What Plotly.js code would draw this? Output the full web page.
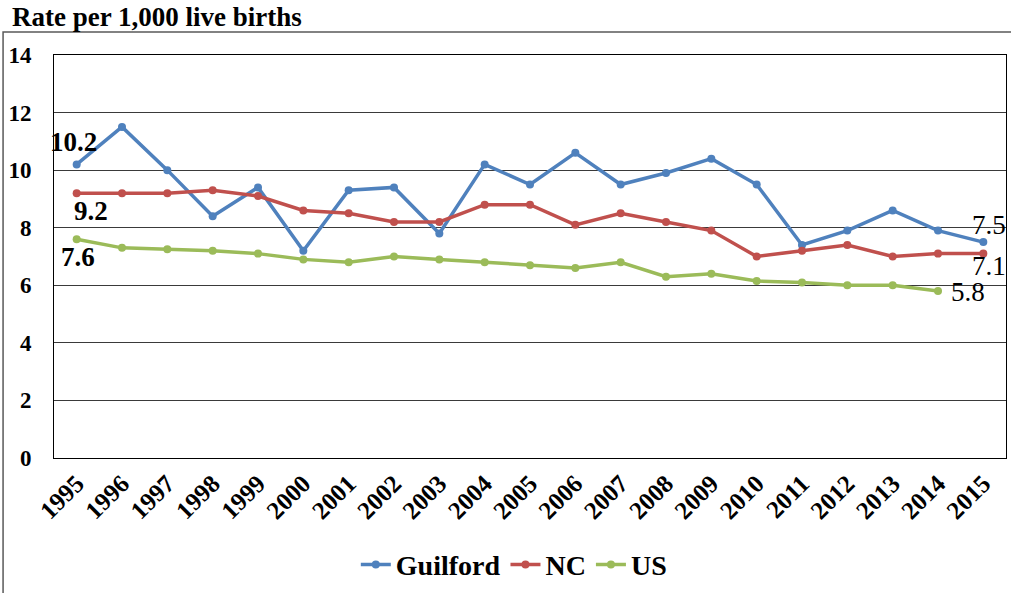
<!DOCTYPE html>
<html>
<head>
<meta charset="utf-8">
<script src="https://cdn.plot.ly/plotly-3.0.1.min.js"></script>
<style>
  html, body { margin: 0; padding: 0; background: #fff; }
  #chart { width: 1011px; height: 593px; }
</style>
</head>
<body>
<div id="chart"></div>
<script>
const years = ['1995','1996','1997','1998','1999','2000','2001','2002','2003','2004','2005',
               '2006','2007','2008','2009','2010','2011','2012','2013','2014','2015'];
const guilford = [10.2, 11.5, 10.0, 8.4, 9.4, 7.2, 9.3, 9.4, 7.8, 10.2, 9.5,
                  10.6, 9.5, 9.9, 10.4, 9.5, 7.4, 7.9, 8.6, 7.9, 7.5];
const nc = [9.2, 9.2, 9.2, 9.3, 9.1, 8.6, 8.5, 8.2, 8.2, 8.8, 8.8,
            8.1, 8.5, 8.2, 7.9, 7.0, 7.2, 7.4, 7.0, 7.1, 7.1];
const us = [7.6, 7.3, 7.25, 7.2, 7.1, 6.9, 6.8, 7.0, 6.9, 6.8, 6.7,
            6.6, 6.8, 6.3, 6.4, 6.15, 6.1, 6.0, 6.0, 5.8, null];
const yTicks = [0, 2, 4, 6, 8, 10, 12, 14];

const serif = 'Liberation Serif, Times New Roman, serif';

function series(name, y, color) {
  return {
    type: 'scatter', mode: 'lines+markers', name: name,
    x: years, y: y,
    line: {color: color, width: 3.5},
    marker: {color: color, size: 8},
    connectgaps: false,
    hoverinfo: 'x+y+name'
  };
}

const data = [
  series('Guilford', guilford, '#4F81BD'),
  series('NC', nc, '#C0504D'),
  series('US', us, '#9BBB59')
];

function lastIdx(arr) { for (let i = arr.length - 1; i >= 0; i--) if (arr[i] !== null) return i; return 0; }

// x given as category index on the category axis
function label(arr, idx, dx, dy, bold) {
  return {
    xref: 'x', yref: 'y', x: idx, y: arr[idx],
    text: arr[idx].toFixed(1), showarrow: false,
    xshift: dx, yshift: dy, xanchor: 'center', yanchor: 'middle',
    font: {family: serif, size: 27, color: '#000', weight: bold ? 'bold' : 'normal'}
  };
}

const annotations = [
  label(guilford, 0, -3, 22, true),
  label(nc, 0, 14, -18, true),
  label(us, 0, 1, -18, true),
  label(guilford, lastIdx(guilford), 6, 17, false),
  label(nc, lastIdx(nc), 6, -12, false),
  label(us, lastIdx(us), 30, -1, false)
];

const layout = {
  width: 1011, height: 593,
  margin: {l: 54, r: 5, t: 55, b: 135, autoexpand: false},
  paper_bgcolor: '#fff', plot_bgcolor: '#fff',
  title: {
    text: 'Rate per 1,000 live births',
    x: 12 / 1011, xref: 'container', xanchor: 'left',
    y: 1 - 17 / 593, yref: 'container', yanchor: 'middle',
    font: {family: serif, size: 27, color: '#000', weight: 'bold'}
  },
  xaxis: {
    type: 'category',
    categoryorder: 'array', categoryarray: years,
    range: [-0.5, years.length - 0.5], autorange: false,
    tickangle: -45,
    tickfont: {family: serif, size: 25, color: '#000', weight: 'bold'},
    showgrid: false,
    showline: true, linecolor: '#000', linewidth: 1, mirror: true,
    ticks: '', zeroline: false
  },
  yaxis: {
    range: [0, 14], autorange: false,
    tickvals: yTicks,
    ticktext: yTicks.map(String),
    tickfont: {family: serif, size: 23, color: '#000', weight: 'bold'},
    ticklabelstandoff: 17,
    showgrid: true, gridcolor: '#3a3a3a', gridwidth: 1,
    showline: true, linecolor: '#000', linewidth: 1, mirror: true,
    ticks: '', zeroline: false
  },
  showlegend: true,
  legend: {
    orientation: 'h',
    x: 0.483, xanchor: 'center', xref: 'paper',
    y: -0.265, yanchor: 'middle', yref: 'paper',
    font: {family: serif, size: 28, color: '#000', weight: 'bold'},
    itemwidth: 30,
    bgcolor: 'rgba(0,0,0,0)'
  },
  annotations: annotations,
  shapes: [{
    type: 'rect', xref: 'paper', yref: 'paper',
    x0: -0.0535, x1: 1.2, y0: -0.6, y1: 1.057,
    line: {color: '#595959', width: 1.5}, fillcolor: 'rgba(0,0,0,0)', layer: 'below'
  }]
};

Plotly.newPlot('chart', data, layout, {displayModeBar: false, staticPlot: true});
</script>
</body>
</html>
